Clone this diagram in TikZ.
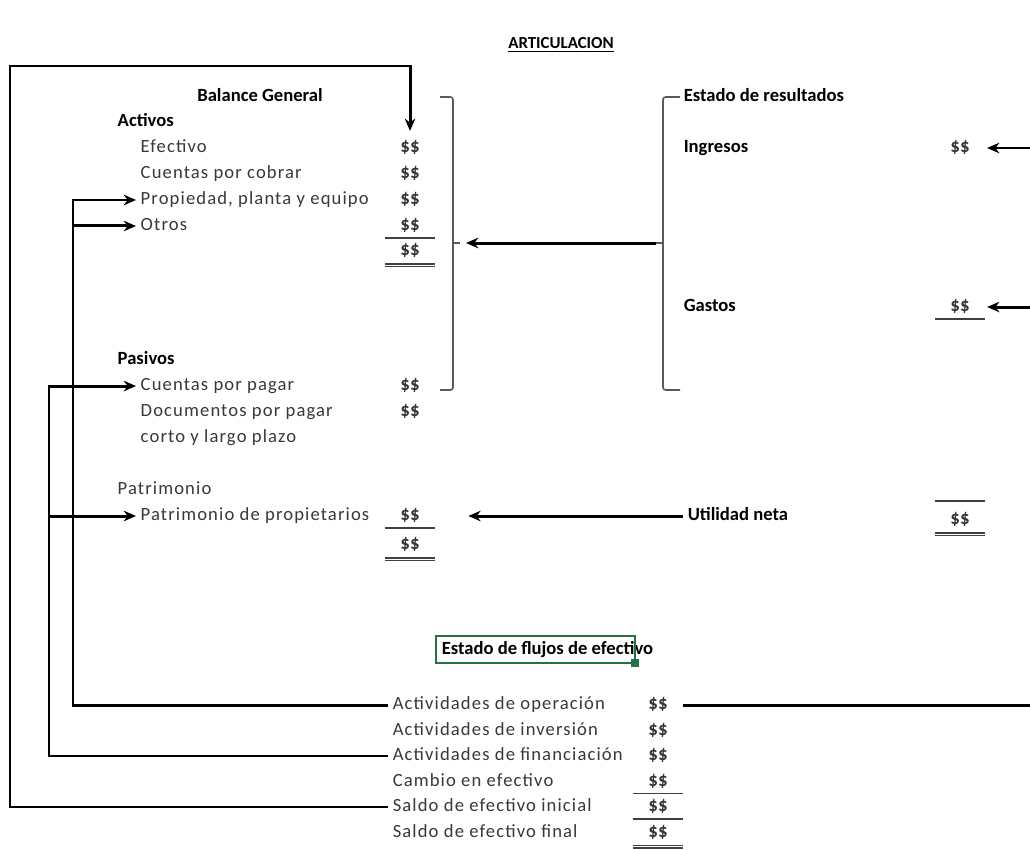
\documentclass[tikz,border=0pt]{standalone}
\usepackage{fontspec}
\setmainfont{Carlito}
\newfontfamily\cellfont[LetterSpace=6]{Carlito}
\usetikzlibrary{positioning, arrows.meta}
\definecolor{selgreen}{HTML}{217346}

\begin{document}
\begin{tikzpicture}[x=0.02cm, y=-0.02cm]
  % Define styles for nodes
  \tikzset{
    item/.style={font=\cellfont\fontsize{10.6}{12}\selectfont, text=black!78, anchor=west, inner xsep=2.5pt, inner ysep=0pt, text height=1.5ex, text depth=.4ex},
    heading/.style={font=\bfseries\fontsize{10.6}{12}\selectfont, anchor=west, inner xsep=2.5pt, inner ysep=0pt, text height=1.5ex, text depth=.4ex},
    amount/.style={font=\bfseries\fontsize{10.8}{12}\selectfont, text=black!80, minimum width=1cm, inner sep=0pt, text height=1.5ex, text depth=.4ex},
    flow/.style={line width=1.7pt, -{Stealth[length=7pt,width=6pt]}},
    link/.style={line width=1.7pt},
    bracket/.style={line width=0.9pt, black!65, rounded corners=1.5pt},
    rule/.style={line width=0.6pt, black!75}
  }
  \useasboundingbox (0,0) rectangle (1030,849);

  % Title
  \node[font=\bfseries\fontsize{9.6}{11}\selectfont] (titulo) at (561,45) {\underline{ARTICULACION}};

  % Balance general
  \coordinate (bgcol) at (410,0);
  \node[heading, anchor=center] (bgtitle) at (260,97) {Balance General};
  \node[heading] (activos) at (113,122) {Activos};
  \node[item] (efectivo) at (136,148) {Efectivo};
  \node[item, below=0.52cm of efectivo.west, anchor=west] (cobrar) {Cuentas por cobrar};
  \node[item, below=0.52cm of cobrar.west, anchor=west] (ppe) {Propiedad, planta y equipo};
  \node[item, below=0.52cm of ppe.west, anchor=west] (otros) {Otros};

  \node[amount] (efectivoamt) at (efectivo -| bgcol) {\$\$};
  \node[amount] (cobraramt) at (cobrar -| bgcol) {\$\$};
  \node[amount] (ppeamt) at (ppe -| bgcol) {\$\$};
  \node[amount] (otrosamt) at (otros -| bgcol) {\$\$};
  \node[amount, below=0.5cm of otrosamt.center, anchor=center] (activosamt) {\$\$};

  \node[heading] (pasivos) at (113,360) {Pasivos};
  \node[item] (pagar) at (136,386) {Cuentas por pagar};
  \node[item, below=0.52cm of pagar.west, anchor=west] (docs) {Documentos por pagar};
  \node[item, below=0.52cm of docs.west, anchor=west] (plazo) {corto y largo plazo};
  \node[amount] (pagaramt) at (pagar -| bgcol) {\$\$};
  \node[amount] (docsamt) at (docs -| bgcol) {\$\$};

  \node[item] (patrimonio) at (113,490) {Patrimonio};
  \node[item] (propietarios) at (136,516) {Patrimonio de propietarios};
  \node[amount] (propietariosamt) at (propietarios -| bgcol) {\$\$};
  \node[amount, below=0.58cm of propietariosamt.center, anchor=center] (patrimonioamt) {\$\$};

  % Estado de resultados
  \coordinate (ercol) at (960,0);
  \node[heading] (ertitle) at (679,97) {Estado de resultados};
  \node[heading] (ingresos) at (679,148) {Ingresos};
  \node[heading] (gastos) at (679,307) {Gastos};
  \node[heading] (utilidad) at (683,516) {Utilidad neta};
  \node[amount] (ingresosamt) at (ingresos -| ercol) {\$\$};
  \node[amount] (gastosamt) at (gastos -| ercol) {\$\$};
  \node[amount] (utilidadamt) at (960,520) {\$\$};

  % Estado de flujos de efectivo
  \coordinate (efcol) at (658,0);
  \node[heading] (flujos) at (437,650) {Estado de flujos de efectivo};
  \draw[selgreen, line width=1.1pt] (436,636) rectangle (635,663);
  \fill[selgreen] (631,659) rectangle (639,667);
  \node[item] (operacion) at (388,705) {Actividades de operación};
  \node[item, below=0.51cm of operacion.west, anchor=west] (inversion) {Actividades de inversión};
  \node[item, below=0.51cm of inversion.west, anchor=west] (financiacion) {Actividades de financiación};
  \node[item, below=0.51cm of financiacion.west, anchor=west] (cambio) {Cambio en efectivo};
  \node[item, below=0.51cm of cambio.west, anchor=west] (inicial) {Saldo de efectivo inicial};
  \node[item, below=0.51cm of inicial.west, anchor=west] (final) {Saldo de efectivo final};
  \foreach \n in {operacion, inversion, financiacion, cambio, inicial, final}
    \node[amount] (\n amt) at (\n -| efcol) {\$\$};

  % Underlines below the amounts
  \foreach \n in {otrosamt, propietariosamt, gastosamt, cambioamt, inicialamt}
    \draw[rule] ([yshift=-0.24cm]\n.west) -- ([yshift=-0.24cm]\n.east);
  \foreach \n in {activosamt, patrimonioamt, finalamt, utilidadamt} {
    \draw[rule] ([yshift=-0.26cm]\n.west) -- ([yshift=-0.26cm]\n.east);
    \draw[rule] ([yshift=-0.31cm]\n.west) -- ([yshift=-0.31cm]\n.east);
  }
  \draw[rule] ([yshift=0.38cm]utilidadamt.west) -- ([yshift=0.38cm]utilidadamt.east);

  % Brackets
  \coordinate (bgcusp) at (460,243);
  \coordinate (ercusp) at (656,243);
  \draw[bracket] (440,97) -- (453,97) -- (453,390) -- (440,390);
  \draw[bracket] (453,243) -- (bgcusp);
  \draw[bracket] (680,97) -- (663,97) -- (663,390) -- (680,390);
  \draw[bracket] (663,243) -- (ercusp);
  \draw[flow, shorten >=1.2mm] (ercusp) -- (bgcusp);

  % Connectors
  \coordinate (opbus) at (73,0);
  \coordinate (finbus) at (49,0);
  \coordinate (cashbus) at (10,66);
  \coordinate (rightedge) at (1030,0);
  \draw[flow] (operacion.west) -| (opbus |- ppe.west) -- (ppe.west);
  \draw[flow] (opbus |- otros.west) -- (otros.west);
  \draw[flow] (financiacion.west) -| (finbus |- pagar.west) -- (pagar.west);
  \draw[flow] (finbus |- propietarios.west) -- (propietarios.west);
  \draw[flow, shorten >=5pt] (inicial.west) -| (cashbus) -| (efectivoamt.north);
  \draw[flow] (utilidad.west) -- ([xshift=0.66cm]propietariosamt.east);
  \draw[flow] (ingresosamt -| rightedge) -- ([xshift=1pt]ingresosamt.east);
  \draw[flow] (gastosamt -| rightedge) -- ([xshift=1pt]gastosamt.east);
  \draw[link] (operacionamt.east) -- (operacionamt -| rightedge);
\end{tikzpicture}
\end{document}
